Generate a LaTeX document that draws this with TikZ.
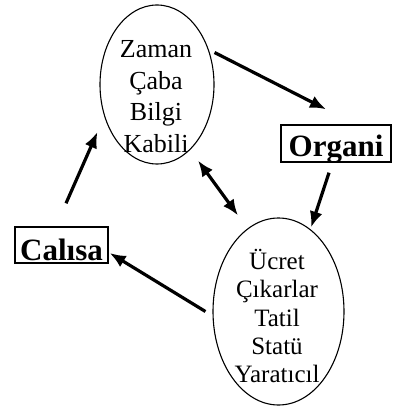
\documentclass[tikz,border=0pt]{standalone}
\usepackage{fontspec}
\setmainfont{Liberation Serif}
\usetikzlibrary{arrows.meta, shapes.geometric}

\begin{document}
\begin{tikzpicture}[x=1pt, y=-1pt, >={Latex[length=16pt, width=13pt]},
    oval/.style={draw, ellipse, line width=1.1pt, inner sep=0pt},
    kutu/.style={draw, line width=1.4pt, inner sep=0pt, font=\fontsize{31}{31}\selectfont\bfseries},
    ok/.style={->, line width=3.2pt}]

    % 0. Resmin sinirlari
    \useasboundingbox (0,0) rectangle (392,406);

    % 1. Elipsler ve icindeki yazilar
    \node[oval, minimum width=114pt, minimum height=159pt] (katki) at (157,84.5) {};
    \node[align=center, font=\fontsize{26}{31.7}\selectfont] (katkiyazi) at (156,96.5)
        {Zaman\\Çaba\\Bilgi\\Kabili};

    \node[oval, minimum width=131pt, minimum height=187pt] (odul) at (278.5,311.5) {};
    \node[align=center, font=\fontsize{25}{28.25}\selectfont] (odulyazi) at (277,316)
        {Ücret\\Çıkarlar\\Tatil\\Statü\\Yaratıcıl};

    % 2. Kutular
    \node[kutu, minimum width=110pt, text height=32pt, text depth=5pt] (organi) at (336,143.5) {Organi};
    \node[kutu, minimum width=93pt, text height=33pt, text depth=3pt] (calisa) at (61.5,245) {Calısa};

    % 3. Oklar
    \draw[ok] ([shift={(0,-32)}]katki.east) -- ([shift={(-10,-15)}]organi.north);
    \draw[ok] ([shift={(-7,10)}]organi.south) -- ([shift={(32.5,10)}]odul.north);
    \draw[ok] ([shift={(-7,0)}]odul.west) -- ([shift={(1,8)}]calisa.east);
    \draw[ok] ([shift={(4.5,-23)}]calisa.north) -- ([shift={(-2,47.5)}]katki.west);

    % 4. Iki yonlu ok
    \draw[ok, <->] ([shift={(41,-4)}]katki.south) -- ([shift={(-40.5,-2)}]odul.north);

\end{tikzpicture}
\end{document}
